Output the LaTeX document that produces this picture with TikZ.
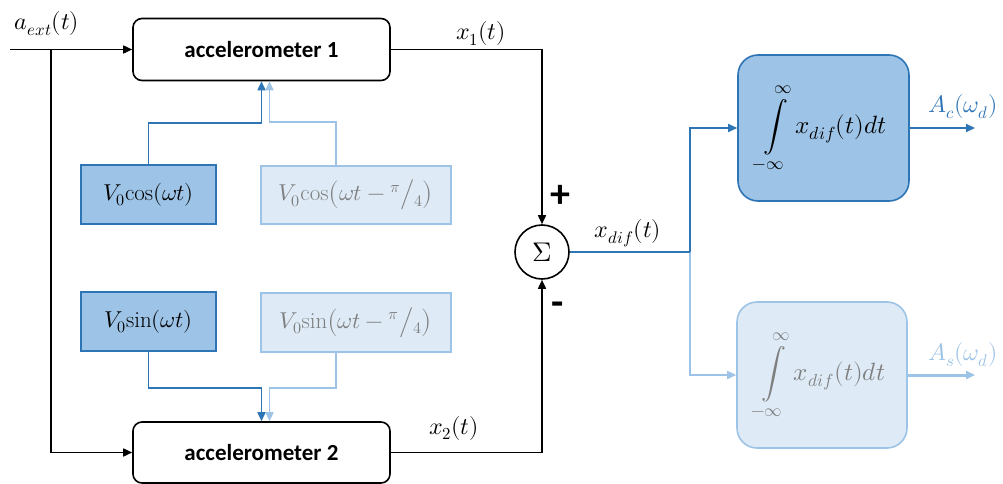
\documentclass[tikz,border=0pt]{standalone}
\usepackage{fontspec}
\usepackage{unicode-math}
\usetikzlibrary{arrows.meta}
\newfontfamily\calfont{Carlito}
\definecolor{dblue}{HTML}{2E75B6}
\definecolor{mblue}{HTML}{9DC3E6}
\definecolor{lblue}{HTML}{DEEBF7}
\definecolor{gtext}{HTML}{7F7F7F}
\tikzset{
  tip/.tip={Triangle[length=9pt,width=8pt]},
  accbox/.style={draw=black, line width=1.6pt, rounded corners=9pt, minimum width=257pt, minimum height=62pt, inner sep=0pt, font=\calfont\bfseries\fontsize{23}{26}\selectfont},
  mathf/.style={font=\fontsize{23}{27}\selectfont},
  darkbox/.style={draw=dblue, fill=mblue, line width=1.6pt, inner sep=0pt, mathf},
  lightbox/.style={draw=mblue, fill=lblue, line width=1.6pt, inner sep=0pt, mathf, text=gtext},
  bk/.style={draw=black, line width=1.6pt},
  db/.style={draw=dblue, line width=1.6pt},
  mb/.style={draw=mblue, line width=1.6pt},
  lab/.style={inner sep=0pt, font=\fontsize{24}{28}\selectfont},
  sign/.style={inner sep=0pt, font=\calfont\bfseries\fontsize{40}{40}\selectfont},
}
\begin{document}
\begin{tikzpicture}[x=1pt,y=-1pt]
\useasboundingbox (0,0) rectangle (1003,484);
% nodes
\node[accbox] (acc1) at (261.5,49.5) {accelerometer 1};
\node[accbox, minimum height=61pt] (acc2) at (261.5,452.5) {accelerometer 2};
\node[darkbox, minimum width=135pt, minimum height=59pt] (cosA) at (148.5,194.5) {$V_0\mathrm{cos}(\omega t)$};
\node[lightbox, minimum width=190pt, minimum height=58pt] (cosB) at (356,195) {$V_0\mathrm{cos}\!\left(\omega t-{}^{\pi}\big/{}_{4}\right)$};
\node[darkbox, minimum width=135pt, minimum height=59pt] (sinA) at (148.5,321.5) {$V_0\mathrm{sin}(\omega t)$};
\node[lightbox, minimum width=190pt, minimum height=59pt] (sinB) at (356,322.5) {$V_0\mathrm{sin}\!\left(\omega t-{}^{\pi}\big/{}_{4}\right)$};
\node[circle, draw=black, line width=1.6pt, minimum size=54pt, inner sep=0pt, font=\fontsize{27}{30}\selectfont] (sum) at (542,252) {$\Sigma$};
\node[darkbox, rounded corners=20pt, minimum width=171pt, minimum height=146pt, font=\fontsize{25}{29}\selectfont] (int1) at (823.5,128) {$\displaystyle\int\limits_{-\infty}^{\infty} x_{dif}(t)dt$};
\node[lightbox, rounded corners=20pt, minimum width=170pt, minimum height=146pt, font=\fontsize{25}{29}\selectfont] (int2) at (822,375) {$\displaystyle\int\limits_{-\infty}^{\infty} x_{dif}(t)dt$};
% labels
\node[lab] (laext) at (47,24) {$a_{ext}(t)$};
\node[lab] (lx1) at (481,34) {$x_1(t)$};
\node[lab] (lx2) at (454,428) {$x_2(t)$};
\node[lab] (lxd) at (628,233) {$x_{dif}(t)$};
\node[lab, text=dblue] (lAc) at (963,107) {$A_c(\omega_d)$};
\node[lab, text=mblue] (lAs) at (963,355) {$A_s(\omega_d)$};
\node[sign] (plus) at (560,196) {+};
\node[sign] (minus) at (558,309) {-};
% coordinates
\coordinate (in) at (10,49.5);
\coordinate (j1) at (51,49.5);
\coordinate (j2) at (690,252);
\coordinate (o1) at (975,128);
\coordinate (o2) at (975,375);
% connectors
\draw[bk,-{tip}] (in) -- (acc1.west);
\draw[bk,-{tip}] (j1) |- (acc2.west);
\draw[bk,-{tip}] (acc1.east) -| (sum.north);
\draw[bk,-{tip}] (acc2.east) -| (sum.south);
\draw[mb,-{tip}] ([xshift=-20pt]cosB.north) -- ++(0,-43) -| ([xshift=8pt]acc1.south);
\draw[db,-{tip}] (cosA.north) -- ++(0,-41) -| (acc1.south);
\draw[mb,-{tip}] ([xshift=-20pt]sinB.south) -- ++(0,35) -| ([xshift=8pt]acc2.north);
\draw[db,-{tip}] (sinA.south) -- ++(0,36) -| (acc2.north);
\draw[mb,-{tip}] (j2) |- (int2.west);
\draw[db] (sum.east) -- (j2);
\draw[db,-{tip}] (j2) |- (int1.west);
\draw[db,-{tip}] (int1.east) -- (o1);
\draw[mb,line width=3pt,-{tip}] (int2.east) -- (o2);
\end{tikzpicture}
\end{document}
